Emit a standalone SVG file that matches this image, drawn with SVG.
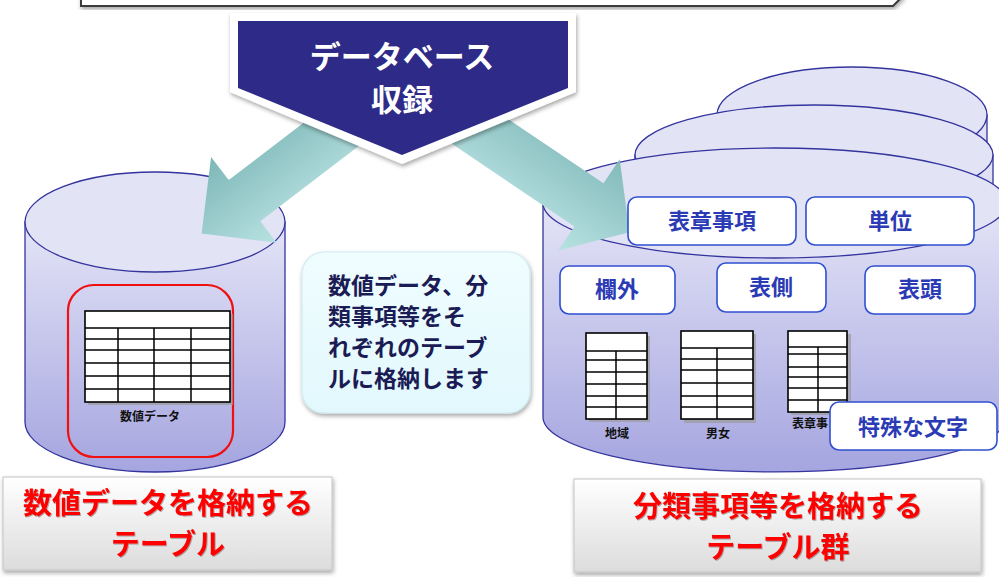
<svg xmlns="http://www.w3.org/2000/svg" width="999" height="577" viewBox="0 0 999 577">
<defs>
  <filter id="sh" x="-10%" y="-10%" width="130%" height="140%">
    <feDropShadow dx="1" dy="2.5" stdDeviation="2" flood-color="#000" flood-opacity="0.35"/>
  </filter>
  <filter id="tsh" x="-5%" y="-5%" width="110%" height="120%">
    <feDropShadow dx="0.8" dy="1" stdDeviation="0.6" flood-color="#000" flood-opacity="0.35"/>
  </filter>
  <linearGradient id="cyl" x1="0" y1="0" x2="0" y2="1">
    <stop offset="0" stop-color="#E4E4F7"/>
    <stop offset="1" stop-color="#A5A5E0"/>
  </linearGradient>
  <linearGradient id="teal" x1="0" y1="0" x2="0" y2="1">
    <stop offset="0" stop-color="#B9E2E2"/>
    <stop offset="1" stop-color="#7DB7B7"/>
  </linearGradient>
  <linearGradient id="teal2" x1="0" y1="0" x2="0" y2="1">
    <stop offset="0" stop-color="#82BABA"/>
    <stop offset="1" stop-color="#B9E2E2"/>
  </linearGradient>
  <linearGradient id="lbl" x1="0" y1="0" x2="0" y2="1">
    <stop offset="0" stop-color="#FFFFFF"/>
    <stop offset="1" stop-color="#DCDCDC"/>
  </linearGradient>
  <linearGradient id="note" x1="0" y1="0" x2="0" y2="1">
    <stop offset="0" stop-color="#F0FDFF"/>
    <stop offset="1" stop-color="#E2F8FD"/>
  </linearGradient>
  <style>
    .cyl { fill: url(#cyl); stroke: #34349E; stroke-width: 1.3; }
    .top { fill: #E3E3F6; stroke: #34349E; stroke-width: 1.3; }
    .tb { fill: #FFFFFF; stroke: #000; stroke-width: 1.6; }
    .tl { stroke: #000; stroke-width: 1.5; fill: none; }
    .tsd { fill: #9A9A9A; opacity: 0.7; }
    .jp { font-family: "Noto Sans CJK JP", "Noto Sans", sans-serif; font-weight: bold; }
    .box { fill: #FFFFFF; stroke: #2F4FD0; stroke-width: 1.6; }
    .boxt { fill: #2B3AB5; font-size: 22px; text-anchor: middle; }
    .small { fill: #111; font-size: 12px; text-anchor: middle; }
    .red { fill: #FF0000; text-anchor: middle; }
  </style>
</defs>
<rect width="999" height="577" fill="#FFFFFF"/>

<g id="top-banner" filter="url(#sh)">
  <path d="M81,-6 V6 H893 L903,-4 V-6 Z" fill="#FFFFFF" stroke="#3A3A3A" stroke-width="2"/>
</g>

<g id="left-db">
  <path class="cyl" d="M25,222 V422 A130,50 0 0 0 285,422 V222 Z"/>
  <ellipse class="top" cx="155" cy="222" rx="130" ry="50"/>
  <rect x="68" y="285" width="165" height="172" rx="26" fill="none" stroke="#F01010" stroke-width="2.2"/>
  <rect class="tsd" x="88" y="314" width="145" height="91"/>
  <rect class="tb" x="85" y="311" width="145" height="91"/>
  <path class="tl" d="M85,328 H230 M85,339 H230 M85,350 H230 M85,363 H230 M85,376 H230 M85,389 H230 M118,328 V402 M154,328 V402 M191,328 V402"/>
  <text class="jp small" x="150" y="421" font-size="11.5">数値データ</text>
</g>

<g id="right-db">
  <path class="cyl" d="M717,115 V360 A135,48 0 0 0 987,360 V115 Z"/>
  <ellipse class="top" cx="852" cy="115" rx="135" ry="48"/>
  <path class="cyl" d="M635,155 V380 A179,50 0 0 0 993,380 V155 Z"/>
  <ellipse class="top" cx="814" cy="155" rx="179" ry="50"/>
  <path class="cyl" d="M543,203 V417 A232,55 0 0 0 1007,417 V203 Z"/>
  <ellipse class="top" cx="775" cy="203" rx="232" ry="55"/>

  <rect class="tsd" x="589" y="336" width="61" height="86"/>
  <rect class="tb" x="586" y="333" width="61" height="86"/>
  <path class="tl" d="M586,351 H647 M586,360 H647 M586,372 H647 M586,384 H647 M586,396 H647 M586,407 H647 M616,351 V419"/>
  <text class="jp small" x="617" y="438">地域</text>

  <rect class="tsd" x="684" y="334" width="72" height="89"/>
  <rect class="tb" x="681" y="331" width="72" height="88"/>
  <path class="tl" d="M681,348 H753 M681,359 H753 M681,370 H753 M681,383 H753 M681,396 H753 M681,407 H753 M717,348 V419"/>
  <text class="jp small" x="718" y="438">男女</text>

  <rect class="tsd" x="791" y="334" width="60" height="81"/>
  <rect class="tb" x="788" y="331" width="59" height="81"/>
  <path class="tl" d="M788,347 H847 M788,354 H847 M788,367 H847 M788,377 H847 M788,388 H847 M788,400 H847 M818,347 V412"/>
  <text class="jp small" x="792" y="428" text-anchor="start" style="text-anchor:start">表章事</text>
</g>

<g id="connectors">
  <g transform="translate(316,146) rotate(142.6)">
    <polygon points="-20,26 90,26 90,55 144,0 90,-53 90,-26 -50,-26" fill="url(#teal)"/>
  </g>
  <g transform="translate(472,126) rotate(34)">
    <polygon points="-30,26 141,26 141,55 190,0 141,-55 141,-26 0,-26" fill="url(#teal2)"/>
  </g>
</g>

<g id="db-entry">
  <polygon points="230,13 576,13 576,92 402,164 230,92" fill="#FFFFFF" filter="url(#sh)"/>
  <polygon points="238,21 568,21 568,88 402,155 238,88" fill="#2E2B88"/>
  <text class="jp" x="402" y="68" font-size="31" fill="#FFFFFF" text-anchor="middle">データベース</text>
  <text class="jp" x="402" y="111" font-size="31" fill="#FFFFFF" text-anchor="middle">収録</text>
</g>

<g id="box-hyoshojiko">
  <rect class="box" x="628" y="197" width="168" height="48" rx="9"/>
  <text class="jp boxt" x="712" y="229">表章事項</text>
</g>
<g id="box-tani">
  <rect class="box" x="806" y="197" width="168" height="48" rx="9"/>
  <text class="jp boxt" x="890" y="229">単位</text>
</g>
<g id="box-rangai">
  <rect class="box" x="560" y="266" width="115" height="48" rx="9"/>
  <text class="jp boxt" x="617" y="297">欄外</text>
</g>
<g id="box-hyosoku">
  <rect class="box" x="717" y="263" width="109" height="49" rx="9"/>
  <text class="jp boxt" x="771" y="295">表側</text>
</g>
<g id="box-hyoto">
  <rect class="box" x="865" y="266" width="110" height="48" rx="9"/>
  <text class="jp boxt" x="920" y="297">表頭</text>
</g>
<g id="box-tokushu">
  <rect class="box" x="830" y="402" width="167" height="48" rx="9"/>
  <text class="jp boxt" x="913" y="435">特殊な文字</text>
</g>

<g id="note">
  <rect x="302" y="252" width="228" height="161" rx="22" fill="url(#note)" stroke="#CDEBF1" stroke-width="1.2" filter="url(#sh)"/>
  <g class="jp" font-size="23" fill="#1B1B55">
    <text x="328" y="294">数値データ、分</text>
    <text x="328" y="325">類事項等をそ</text>
    <text x="328" y="356">れぞれのテーブ</text>
    <text x="328" y="387">ルに格納します</text>
  </g>
</g>

<g id="label-left">
  <rect x="3" y="477" width="329" height="93" fill="url(#lbl)" stroke="#C4C4C4" stroke-width="1" filter="url(#sh)"/>
  <g class="jp red" font-size="29" filter="url(#tsh)">
    <text x="168" y="514">数値データを格納する</text>
    <text x="168" y="555">テーブル</text>
  </g>
</g>

<g id="label-right">
  <rect x="574" y="479" width="407" height="93" fill="url(#lbl)" stroke="#C4C4C4" stroke-width="1" filter="url(#sh)"/>
  <g class="jp red" font-size="29" filter="url(#tsh)">
    <text x="778" y="517">分類事項等を格納する</text>
    <text x="778" y="558">テーブル群</text>
  </g>
</g>
</svg>
